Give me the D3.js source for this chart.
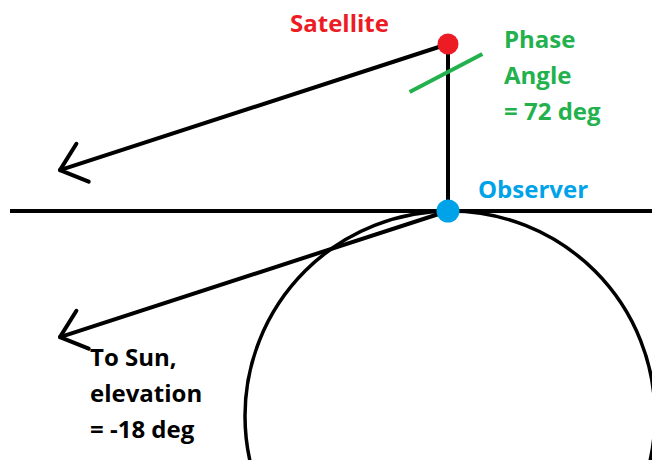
<!DOCTYPE html>
<html>
<head>
<meta charset="utf-8">
<script src="https://cdn.jsdelivr.net/npm/d3@7"></script>
<style>
  body { margin: 0; background: #fff; }
  text { font-family: "Open Sans", Lato, sans-serif; font-weight: bold; font-size: 24px; }
</style>
</head>
<body>
<script>
// diagram values
var phaseAngle = 72;          // deg, at satellite
var sunElevation = -18;       // deg, seen from observer
var satHeight = 167;          // scene units above observer
var earthRadius = 205;
var arrowLength = 408;
var satLabel = ["Satellite"];
var obsLabel = ["Observer"];
var phaseLabel = ["Phase", "Angle", "= " + phaseAngle + " deg"];
var sunLabel = ["To Sun,", "elevation", "= " + sunElevation + " deg"];

var width = 652, height = 460;
var svg = d3.select("body").append("svg")
    .attr("width", width)
    .attr("height", height);

// scene coords: observer at 0,0 , y up
var x = d3.scaleLinear().domain([-448, 204]).range([0, width]);
var y = d3.scaleLinear().domain([211, -249]).range([0, height]);
var k = x(1) - x(0);

var rad = Math.PI / 180;
var sunDir = [-Math.cos(sunElevation * rad), Math.sin(sunElevation * rad)];

// earth
svg.append("circle")
    .attr("cx", x(2)).attr("cy", y(-earthRadius))
    .attr("r", earthRadius * k)
    .attr("fill", "none").attr("stroke", "#000").attr("stroke-width", 3.5);

// horizon
svg.append("line")
    .attr("x1", x(-438)).attr("x2", x(204))
    .attr("y1", y(0)).attr("y2", y(0))
    .attr("stroke", "#000").attr("stroke-width", 4);

// observer -> satellite
svg.append("line")
    .attr("x1", x(0)).attr("x2", x(0))
    .attr("y1", y(0)).attr("y2", y(satHeight))
    .attr("stroke", "#000").attr("stroke-width", 4);

function arrow(start) {
  var tip = [start[0] + sunDir[0] * arrowLength, start[1] + sunDir[1] * arrowLength];
  var back = Math.atan2(-sunDir[1], -sunDir[0]);
  var barbs = [40, -40].map(function(a) {
    var t = back + a * rad;
    return [tip[0] + Math.cos(t) * 31, tip[1] + Math.sin(t) * 31];
  });
  var line = d3.line().x(function(d) { return x(d[0]); }).y(function(d) { return y(d[1]); });
  svg.append("path")
      .attr("d", line([start, tip]))
      .attr("fill", "none").attr("stroke", "#000").attr("stroke-width", 4).attr("stroke-linecap", "round");
  svg.append("path")
      .attr("d", line([barbs[0], tip, barbs[1]]))
      .attr("fill", "none").attr("stroke", "#000").attr("stroke-width", 4)
      .attr("stroke-linecap", "round").attr("stroke-linejoin", "round");
}
arrow([0, satHeight]);
arrow([0, 0]);

// phase angle mark
var gAng = 27.5 * rad, gLen = 41;
svg.append("line")
    .attr("x1", x(-2 - Math.cos(gAng) * gLen)).attr("y1", y(satHeight - 29 - Math.sin(gAng) * gLen))
    .attr("x2", x(-2 + Math.cos(gAng) * gLen)).attr("y2", y(satHeight - 29 + Math.sin(gAng) * gLen))
    .attr("stroke", "#22b14c").attr("stroke-width", 4);

// dots
svg.append("circle").attr("cx", x(0)).attr("cy", y(satHeight)).attr("r", 10.5).attr("fill", "#ed1c24");
svg.append("circle").attr("cx", x(0)).attr("cy", y(0)).attr("r", 11.5).attr("fill", "#00a2e8");

// labels
function label(lines, px, py, color) {
  svg.append("text")
      .attr("fill", color)
      .selectAll("tspan")
      .data(lines)
      .enter()
      .append("tspan")
      .attr("x", px)
      .attr("y", function(d, i) { return py + i * 36; })
      .text(function(d) { return d; });
}
label(satLabel, 290, 32, "#ed1c24");
label(phaseLabel, 504, 48, "#22b14c");
label(obsLabel, 478, 198, "#00a2e8");
label(sunLabel, 90, 366, "#000");
</script>
</body>
</html>
